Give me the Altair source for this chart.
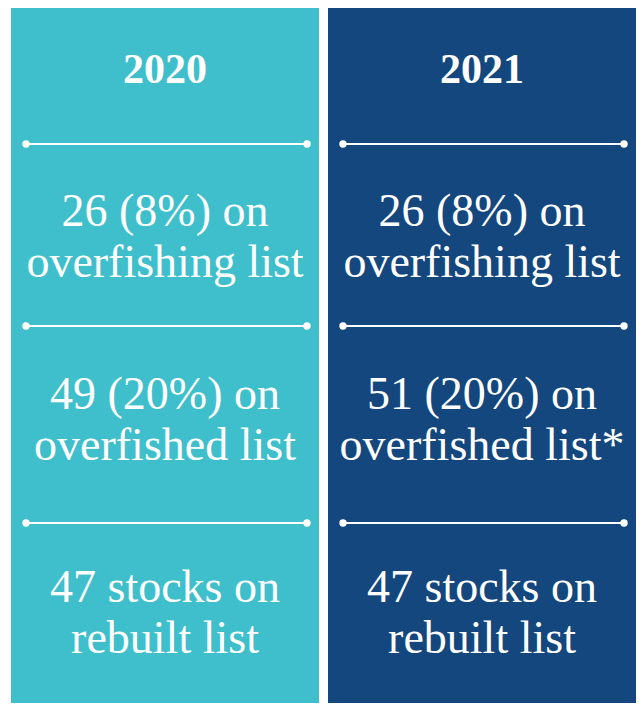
import altair as alt
import pandas as pd

# ---- content ----
years = ["2020", "2021"]
panel_colors = ["#3EBFCB", "#13477D"]
stat_line1 = [
    ["26 (8%) on", "49 (20%) on", "47 stocks on"],
    ["26 (8%) on", "51 (20%) on", "47 stocks on"],
]
stat_line2 = [
    ["overfishing list", "overfished list", "rebuilt list"],
    ["overfishing list", "overfished list*", "rebuilt list"],
]

# ---- layout (page pixels) ----
W, H = 628, 695
ORIGIN = 8
panel_left = [11, 328]
panel_width = 308
panel_top = 6
title_y = 70
divider_y = [144, 326, 523]
row_center = [237, 420, 613]
line_gap = 25.5
div_inset_l, div_inset_r = 15, 12

panels, dividers, dots, texts = [], [], [], []
for j, yr in enumerate(years):
    x0 = panel_left[j]
    cx = x0 + panel_width / 2
    panels.append(dict(x=x0, x2=x0 + panel_width, y=panel_top, y2=ORIGIN + H, c=panel_colors[j]))
    texts.append(dict(x=cx, y=title_y, t=yr, kind="title"))
    for k, dy in enumerate(divider_y):
        xa, xb = x0 + div_inset_l, x0 + panel_width - div_inset_r
        dividers.append(dict(x=xa, x2=xb, y=dy))
        dots.append(dict(x=xa, y=dy))
        dots.append(dict(x=xb, y=dy))
    for k in range(3):
        texts.append(dict(x=cx, y=row_center[k] - line_gap, t=stat_line1[j][k], kind="body"))
        texts.append(dict(x=cx, y=row_center[k] + line_gap, t=stat_line2[j][k], kind="body"))

xs = alt.Scale(domain=[ORIGIN, ORIGIN + W], range=[0, W])
ys = alt.Scale(domain=[ORIGIN, ORIGIN + H], range=[0, H])

pdf = pd.DataFrame(panels)
rect = alt.Chart(pdf).mark_rect().encode(
    x=alt.X("x:Q", scale=xs, axis=None),
    x2="x2:Q",
    y=alt.Y("y:Q", scale=ys, axis=None),
    y2="y2:Q",
    color=alt.Color("c:N", scale=None),
)

rules = alt.Chart(pd.DataFrame(dividers)).mark_rule(color="white", strokeWidth=2).encode(
    x=alt.X("x:Q", scale=xs), x2="x2:Q", y=alt.Y("y:Q", scale=ys)
)

circ = alt.Chart(pd.DataFrame(dots)).mark_circle(color="white", opacity=1, size=55).encode(
    x=alt.X("x:Q", scale=xs), y=alt.Y("y:Q", scale=ys)
)

tdf = pd.DataFrame(texts)
title_txt = alt.Chart(tdf[tdf.kind == "title"]).mark_text(
    font="Liberation Serif", fontSize=42, fontWeight="bold", color="white",
    align="center", baseline="middle"
).encode(x=alt.X("x:Q", scale=xs), y=alt.Y("y:Q", scale=ys), text="t:N")

body_txt = alt.Chart(tdf[tdf.kind == "body"]).mark_text(
    font="Liberation Serif", fontSize=46, color="white",
    align="center", baseline="middle"
).encode(x=alt.X("x:Q", scale=xs), y=alt.Y("y:Q", scale=ys), text="t:N")

chart = (
    alt.layer(rect, rules, circ, title_txt, body_txt)
    .properties(width=W, height=H, autosize=alt.AutoSizeParams(type="none"), padding=0, background="white")
    .configure_view(stroke=None)
)

chart.save("out.html", embed_options={"renderer": "svg", "actions": False})
